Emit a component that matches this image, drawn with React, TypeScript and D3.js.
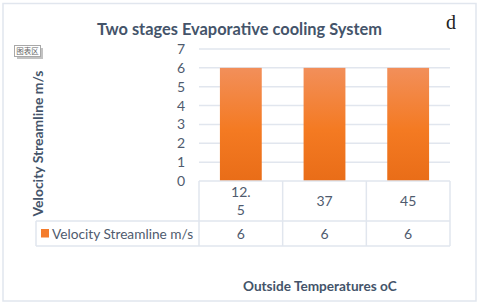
import React from "react";
import * as d3 from "d3";

const categories = ["12.5", "37", "45"];
const categoryLines = [["12.", "5"], ["37"], ["45"]];
const values = [6, 6, 6];
const yTicks = [0, 1, 2, 3, 4, 5, 6, 7];
const seriesName = "Velocity Streamline m/s";
const title = "Two stages Evaporative cooling System";
const xTitle = "Outside Temperatures oC";

const gridColor = "#e1e6ee";
const textColor = "#4f5b6e";
const titleColor = "#44546a";
const font = "Lato, sans-serif";

// plot area
const left = 199;
const right = 450;
const top = 49;
const bottom = 181;
const tableMid = 221;
const tableEnd = 246;
const tableLeft = 36;

export default function App() {
  const x = d3.scaleBand().domain(categories).range([left, right]).paddingInner(0.5).paddingOuter(0.25);
  const cells = d3.scaleBand().domain(categories).range([left, right]);
  const y = d3.scaleLinear().domain([0, 7]).range([bottom, top]);

  return (
    <svg
      width={480}
      height={305}
      style={{ position: "absolute", left: 0, top: 0, background: "#fff" }}
      fontFamily={font}
    >
      <defs>
        <linearGradient id="barFill" x1="0" y1="0" x2="0" y2="1">
          <stop offset="0" stopColor="#f28f5a" />
          <stop offset="0.55" stopColor="#f47a22" />
          <stop offset="1" stopColor="#e96d18" />
        </linearGradient>
      </defs>
      <rect x={3} y={3.5} width={473} height={297.5} fill="#fff" stroke={gridColor} strokeWidth={1.5} />

      <text x={239.5} y={35} textAnchor="middle" fontSize={16.4} fontWeight={700} fill={titleColor}>
        {title}
      </text>
      <text x={446} y={29} fontFamily="'Liberation Serif', serif" fontSize={20} fill="#222">
        d
      </text>

      {/* chart area tag */}
      <rect x={15.5} y={46.5} width={26} height={11} fill="#9a9a9a" opacity={0.6} transform="translate(1.5,1.5)" />
      <rect x={14.5} y={45.5} width={26} height={11} fill="#fff" stroke="#a8a8a8" />
      <text x={27.5} y={54} textAnchor="middle" fontSize={7.5} fill="#666" fontFamily="'Noto Sans CJK SC', sans-serif">
        图表区
      </text>

      {yTicks.filter((t) => t > 0).map((t) => (
        <line key={t} x1={left} x2={right} y1={y(t)} y2={y(t)} stroke={gridColor} strokeWidth={1.5} />
      ))}

      {values.map((v, i) => (
        <rect
          key={categories[i]}
          x={x(categories[i])}
          y={y(v)}
          width={x.bandwidth()}
          height={y(0) - y(v)}
          fill="url(#barFill)"
        />
      ))}

      {yTicks.map((t) => (
        <text key={t} x={181} y={y(t) + 5} textAnchor="middle" fontSize={14} fill={textColor}>
          {t}
        </text>
      ))}

      <text
        transform="translate(43,143.5) rotate(-90)"
        textAnchor="middle"
        fontSize={13.9}
        fontWeight={700}
        fill={titleColor}
      >
        {seriesName}
      </text>

      {/* data table */}
      <g stroke={gridColor} strokeWidth={1.5} fill="none">
        <line x1={left} x2={right} y1={bottom} y2={bottom} />
        <line x1={tableLeft} x2={right} y1={tableMid} y2={tableMid} />
        <line x1={tableLeft} x2={right} y1={tableEnd} y2={tableEnd} />
        <line x1={tableLeft} x2={tableLeft} y1={tableMid} y2={tableEnd} />
        <line x1={left} x2={left} y1={bottom} y2={tableEnd} />
        {categories.map((c) => (
          <line key={c} x1={cells(c)! + cells.bandwidth()} x2={cells(c)! + cells.bandwidth()} y1={bottom} y2={tableEnd} />
        ))}
      </g>
      {categories.map((c, i) => {
        const cx = cells(c)! + cells.bandwidth() / 2;
        const lines = categoryLines[i];
        return (
          <g key={c} textAnchor="middle" fontSize={14} fill={textColor}>
            {lines.map((l, j) => (
              <text key={j} x={cx} y={206 - (lines.length - 1) * 9.5 + j * 18}>
                {l}
              </text>
            ))}
            <text x={cx} y={238.5}>
              {values[i]}
            </text>
          </g>
        );
      })}
      <rect x={41} y={229} width={8} height={8.5} fill="#f47c2c" />
      <text x={52} y={238.5} fontSize={13.7} fill={textColor}>
        {seriesName}
      </text>

      <text x={243} y={291} fontSize={13.6} fontWeight={700} fill={titleColor}>
        {xTitle}
      </text>
    </svg>
  );
}
